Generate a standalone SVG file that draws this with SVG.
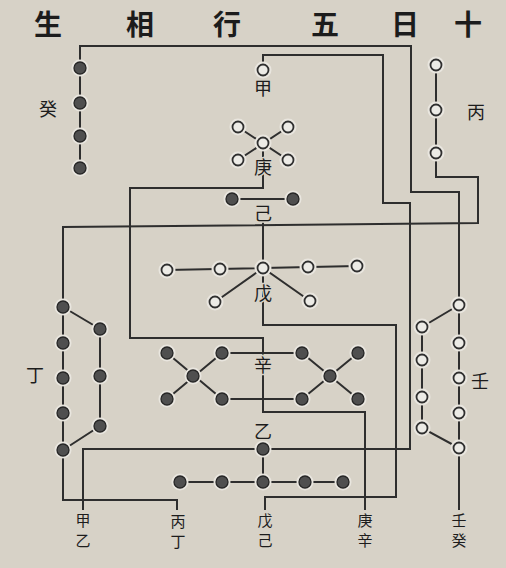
<svg xmlns="http://www.w3.org/2000/svg" xmlns:xlink="http://www.w3.org/1999/xlink" width="506" height="568" viewBox="0 0 506 568">
<style>
.ln{fill:none;stroke:#2e2e2e;stroke-width:2;stroke-linejoin:miter;stroke-linecap:butt}
.h{fill:#e9e6df}
.o{fill:#ecebe6;stroke:#2f2f2f;stroke-width:1.8}
.f{fill:#4f4f4f;stroke:#262626;stroke-width:1.3}
text{font-family:"Noto Sans CJK SC","Noto Sans CJK TC",sans-serif;fill:#1c1c1c;text-anchor:middle;dominant-baseline:central}
.t{font-size:28px;font-weight:700}
.lb{font-size:18px}
.on{stroke:#d7d2c7;stroke-width:3;paint-order:stroke}
.bt{font-size:15px}
</style>
<defs>
<g id="on"><circle r="8.5" class="h"/><circle r="5.5" class="o"/></g>
<g id="fn"><circle r="8.5" class="h"/><circle r="6" class="f"/></g>
</defs>
<rect width="506" height="568" fill="#d7d2c7"/>

<g id="title">
<text class="t" x="48" y="23">生</text>
<text class="t" x="140" y="23">相</text>
<text class="t" x="227" y="23">行</text>
<text class="t" x="325" y="23">五</text>
<text class="t" x="405" y="23">日</text>
<text class="t" x="468" y="23">十</text>
</g>

<g id="connectors">
<path class="ln" d="M263,64 V55 H383 V203 H410 V449 H83 V510"/>
<path class="ln" d="M263,449 V482 M180,482 H343"/>
<path class="ln" d="M436,65 V177 H478 V223 L63,227 V500 H177 V510"/>
<path class="ln" d="M63,307 L100,329 V426 L63,450"/>
<path class="ln" d="M167,270 L263,268 L357,266 M215,302 L263,268 L310,301 M263,220 V325 H396 V497 H265 V510"/>
<path class="ln" d="M232,199 H293"/>
<path class="ln" d="M238,127 L288,160 M288,127 L238,160 M263,143 V188 H130 V338 H263 V412 H365 V510"/>
<path class="ln" d="M167,353 L222,399 M222,353 L167,399 M302,353 L358,399 M358,353 L302,399 M222,353 H302 M222,399 H302"/>
<path class="ln" d="M459,305 L422,327 V428 L459,448 M459,305 V510"/>
<path class="ln" d="M80,168 V46 H411 V192 H459 V305"/>
</g>

<g id="jia">
<use xlink:href="#on" x="263" y="70"/>
<text class="lb on" x="263" y="87">甲</text>
</g>
<g id="geng">
<use xlink:href="#on" x="263" y="143"/>
<use xlink:href="#on" x="238" y="127"/>
<use xlink:href="#on" x="288" y="127"/>
<use xlink:href="#on" x="238" y="160"/>
<use xlink:href="#on" x="288" y="160"/>
<text class="lb on" x="263" y="166">庚</text>
</g>
<g id="ji">
<use xlink:href="#fn" x="232" y="199"/>
<use xlink:href="#fn" x="293" y="199"/>
<text class="lb on" x="263" y="212">己</text>
</g>
<g id="wu">
<use xlink:href="#on" x="167" y="270"/>
<use xlink:href="#on" x="220" y="269"/>
<use xlink:href="#on" x="263" y="268"/>
<use xlink:href="#on" x="308" y="267"/>
<use xlink:href="#on" x="357" y="266"/>
<use xlink:href="#on" x="215" y="302"/>
<use xlink:href="#on" x="310" y="301"/>
<text class="lb on" x="263" y="292">戊</text>
</g>
<g id="xin">
<use xlink:href="#fn" x="193" y="376"/>
<use xlink:href="#fn" x="167" y="353"/>
<use xlink:href="#fn" x="222" y="353"/>
<use xlink:href="#fn" x="167" y="399"/>
<use xlink:href="#fn" x="222" y="399"/>
<use xlink:href="#fn" x="330" y="376"/>
<use xlink:href="#fn" x="302" y="353"/>
<use xlink:href="#fn" x="358" y="353"/>
<use xlink:href="#fn" x="302" y="399"/>
<use xlink:href="#fn" x="358" y="399"/>
<text class="lb on" x="263" y="364">辛</text>
</g>
<g id="yi">
<use xlink:href="#fn" x="263" y="449"/>
<use xlink:href="#fn" x="180" y="482"/>
<use xlink:href="#fn" x="222" y="482"/>
<use xlink:href="#fn" x="263" y="482"/>
<use xlink:href="#fn" x="305" y="482"/>
<use xlink:href="#fn" x="343" y="482"/>
<text class="lb on" x="263" y="430">乙</text>
</g>
<g id="bing">
<use xlink:href="#on" x="436" y="65"/>
<use xlink:href="#on" x="436" y="110"/>
<use xlink:href="#on" x="436" y="153"/>
<text class="lb" x="476" y="111">丙</text>
</g>
<g id="ding">
<use xlink:href="#fn" x="63" y="307"/>
<use xlink:href="#fn" x="63" y="343"/>
<use xlink:href="#fn" x="63" y="378"/>
<use xlink:href="#fn" x="63" y="413"/>
<use xlink:href="#fn" x="63" y="450"/>
<use xlink:href="#fn" x="100" y="329"/>
<use xlink:href="#fn" x="100" y="376"/>
<use xlink:href="#fn" x="100" y="426"/>
<text class="lb" x="35" y="374">丁</text>
</g>
<g id="ren">
<use xlink:href="#on" x="459" y="305"/>
<use xlink:href="#on" x="459" y="343"/>
<use xlink:href="#on" x="459" y="378"/>
<use xlink:href="#on" x="459" y="413"/>
<use xlink:href="#on" x="459" y="448"/>
<use xlink:href="#on" x="422" y="327"/>
<use xlink:href="#on" x="422" y="360"/>
<use xlink:href="#on" x="422" y="397"/>
<use xlink:href="#on" x="422" y="428"/>
<text class="lb" x="480" y="380">壬</text>
</g>
<g id="gui">
<use xlink:href="#fn" x="80" y="68"/>
<use xlink:href="#fn" x="80" y="103"/>
<use xlink:href="#fn" x="80" y="136"/>
<use xlink:href="#fn" x="80" y="168"/>
<text class="lb" x="48" y="108">癸</text>
</g>

<g id="bottom-labels">
<g id="jiayi"><text class="bt" x="83" y="519">甲</text><text class="bt" x="83" y="539">乙</text></g>
<g id="bingding"><text class="bt" x="178" y="520">丙</text><text class="bt" x="178" y="540">丁</text></g>
<g id="wuji"><text class="bt" x="265" y="519">戊</text><text class="bt" x="265" y="539">己</text></g>
<g id="gengxin"><text class="bt" x="365" y="519">庚</text><text class="bt" x="365" y="539">辛</text></g>
<g id="rengui"><text class="bt" x="459" y="519">壬</text><text class="bt" x="459" y="539">癸</text></g>
</g>
</svg>
